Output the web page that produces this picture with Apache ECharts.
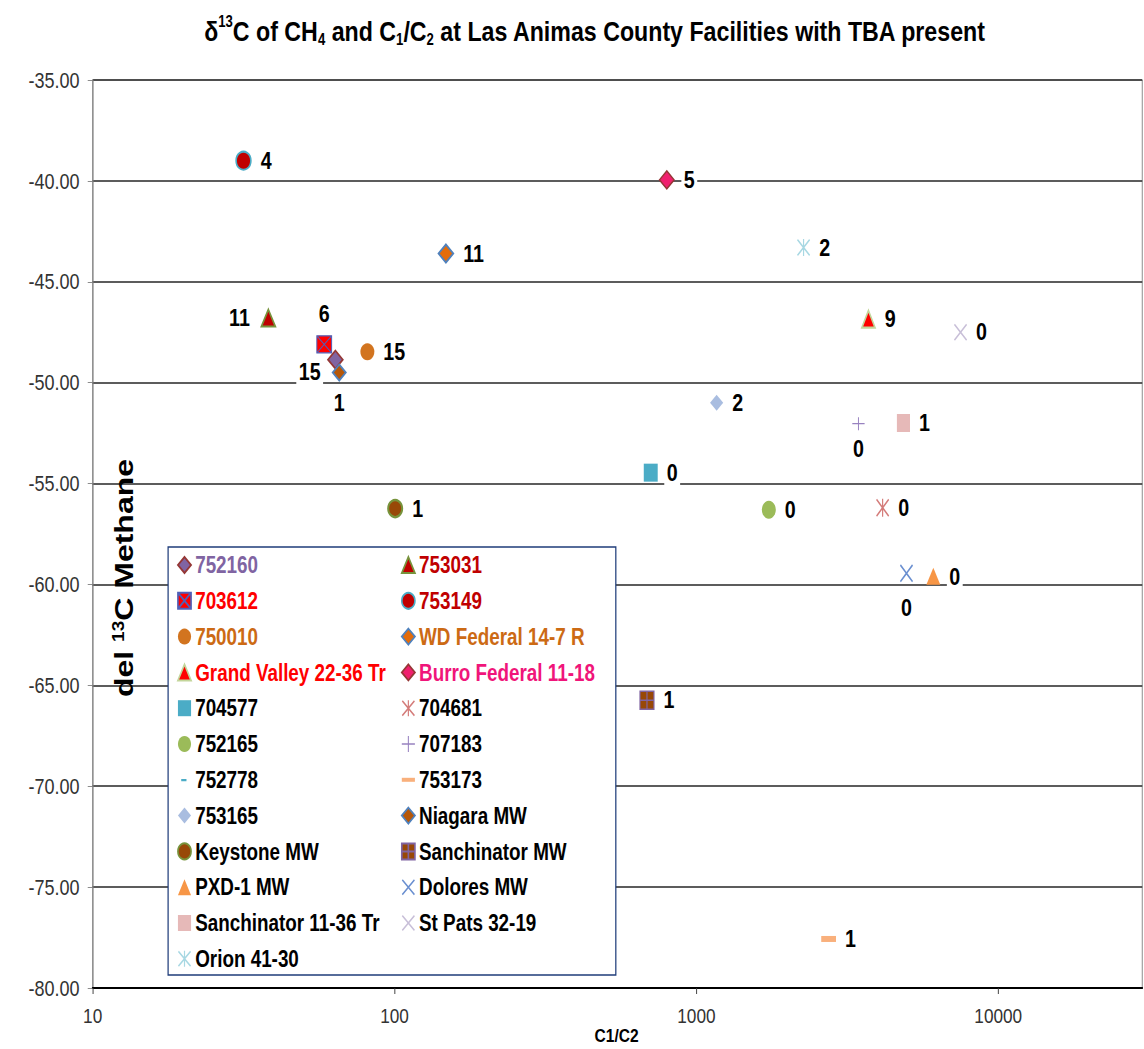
<!DOCTYPE html>
<html>
<head>
<meta charset="utf-8">
<script src="https://cdn.jsdelivr.net/npm/echarts@6/dist/echarts.min.js"></script>
<style>
  html, body { margin: 0; padding: 0; background: #fff; overflow: hidden; }
  #wrap { width: 1144px; height: 1049px; overflow: hidden; }
  /* the source picture is squeezed sideways, so draw wide and squeeze */
  #chart { width: 1395px; height: 1049px; transform: scaleX(0.82); transform-origin: 0 0; }
</style>
</head>
<body>
<div id="wrap"><div id="chart"></div></div>
<script>
// legend order, row by row (left column, right column)
const seriesNames = [
  '752160', '753031',
  '703612', '753149',
  '750010', 'WD Federal 14-7 R',
  'Grand Valley 22-36 Tr', 'Burro Federal 11-18',
  '704577', '704681',
  '752165', '707183',
  '752778', '753173',
  '753165', 'Niagara MW',
  'Keystone MW', 'Sanchinator MW',
  'PXD-1 MW', 'Dolores MW',
  'Sanchinator 11-36 Tr', 'St Pats 32-19',
  'Orion 41-30',
];
const c1c2 = [
  63.7, 38.2,
  58.5, 31.6,
  81.3, 148,
  3716, 798,
  706, 4140,
  1738, 3443,
  null, 2742,
  1167, 65.6,
  100.5, 686,
  6095, 4966,
  4853, 7500,
  2265,
];
const delta13C = [
  -48.86, -46.8,
  -48.1, -39.0,
  -48.47, -43.6,
  -46.85, -39.95,
  -54.46, -56.2,
  -56.3, -52.03,
  null, -77.57,
  -51.0, -49.5,
  -56.24, -65.74,
  -59.6, -59.45,
  -52.0, -47.5,
  -43.3,
];
const tbaCount = [
  15, 11,
  6, 4,
  15, 11,
  9, 5,
  0, 0,
  0, 0,
  null, 1,
  2, 1,
  1, 1,
  0, 0,
  1, 0,
  2,
];
const xTicks = [10, 100, 1000, 10000];

const FONT = "'Liberation Sans', Arial, sans-serif";

const X_PATH = 'M1.5,0 L10,8.5 L18.5,0 L20,1.5 L11.5,10 L20,18.5 L18.5,20 L10,11.5 L1.5,20 L0,18.5 L8.5,10 L0,1.5 Z';
const xMark = 'path://' + X_PATH;
const starMark = 'path://' + X_PATH + ' M9.1,0 H10.9 V20 H9.1 Z';
const plusMark = 'path://M9.2,0 H10.8 V9.2 H20 V10.8 H10.8 V20 H9.2 V10.8 H0 V9.2 H9.2 Z';
const boxX = 'path://M0,0 H20 V20 H0 Z M0,0 L20,20 M20,0 L0,20';
const boxPlus = 'path://M0,0 H20 V20 H0 Z M10,0 V20 M0,10 H20';

// marker look per series
const markers = {
  '752160': { symbol: 'diamond', size: [18, 18], color: '#8064a2', border: '#953735', bw: 2 },
  '753031': { symbol: 'triangle', size: [17, 17], color: '#c00000', border: '#77933c', bw: 2 },
  '703612': { symbol: boxX, size: [18, 17], color: '#ff0000', border: '#5060b8', bw: 1.2 },
  '753149': { symbol: 'circle', size: [18, 18], color: '#c00000', border: '#4bacc6', bw: 2 },
  '750010': { symbol: 'circle', size: [17, 17], color: '#d2741f' },
  'WD Federal 14-7 R': { symbol: 'diamond', size: [18, 18], color: '#e46c0a', border: '#4f81bd', bw: 2 },
  'Grand Valley 22-36 Tr': { symbol: 'triangle', size: [16, 17], color: '#ff0000', border: '#c3d69b', bw: 2 },
  'Burro Federal 11-18': { symbol: 'diamond', size: [18, 18], color: '#f0206e', border: '#953735', bw: 1.5 },
  '704577': { symbol: 'rect', size: [17, 18], color: '#4bacc6' },
  '704681': { symbol: starMark, size: [16, 18], color: '#d47c7a' },
  '752165': { symbol: 'circle', size: [17, 18], color: '#9bbb59' },
  '707183': { symbol: plusMark, size: [15, 13], color: '#9882c0' },
  '752778': { symbol: 'rect', size: [8, 3], color: '#4bacc6' },
  '753173': { symbol: 'rect', size: [18, 6], color: '#f9b07c' },
  '753165': { symbol: 'diamond', size: [16, 16], color: '#a9bde0' },
  'Niagara MW': { symbol: 'diamond', size: [16, 16], color: '#b65708', border: '#4f81bd', bw: 2 },
  'Keystone MW': { symbol: 'circle', size: [17, 17], color: '#984807', border: '#77933c', bw: 2.5 },
  'Sanchinator MW': { symbol: boxPlus, size: [17, 18], color: '#984807', border: '#8064a2', bw: 1.5 },
  'PXD-1 MW': { symbol: 'triangle', size: [17, 17], color: '#f79646' },
  'Dolores MW': { symbol: xMark, size: [16, 18], color: '#6a8fd0' },
  'Sanchinator 11-36 Tr': { symbol: 'rect', size: [16, 18], color: '#e6b9b8' },
  'St Pats 32-19': { symbol: xMark, size: [16, 17], color: '#c8bfd8' },
  'Orion 41-30': { symbol: starMark, size: [16, 17], color: '#a8d8e3' },
};

// where the count label sits
const labelSpots = {
  '753031': { position: 'left', distance: 10 },
  '703612': { position: 'top', distance: 8 },
  '752160': { position: 'left', distance: 5, offset: [0, 12] },
  'Niagara MW': { position: 'bottom', distance: 8 },
  '707183': { position: 'bottom', distance: 6 },
  'Dolores MW': { position: 'bottom', distance: 12 },
};

const legendColors = {
  '752160': '#8064a2',
  '753031': '#c00000',
  '703612': '#ff0000',
  '753149': '#c00000',
  '750010': '#cc6a14',
  'WD Federal 14-7 R': '#cc6a14',
  'Grand Valley 22-36 Tr': '#ff0000',
  'Burro Federal 11-18': '#f0157a',
};

const legendIcons = {
  '752778': 'path://M0,0 L0,0.01 M20,20 L20,19.99 M5,9 H13 V11.8 H5 Z',
  '753173': 'path://M0,0 H20 V5 H0 Z',
};

function legendItem(name) {
  const item = { name: name, textStyle: { color: legendColors[name] || '#000' } };
  if (legendIcons[name]) item.icon = legendIcons[name];
  return item;
}

const series = seriesNames.map((name, i) => {
  const m = markers[name];
  const spot = labelSpots[name] || { position: 'right', distance: 8 };
  return {
    name: name,
    type: 'scatter',
    symbol: m.symbol,
    symbolSize: m.size,
    itemStyle: {
      color: m.color,
      borderColor: m.border || m.color,
      borderWidth: m.bw || 0,
      opacity: 1,
    },
    label: {
      show: tbaCount[i] !== null,
      formatter: String(tbaCount[i]),
      position: spot.position,
      distance: spot.distance,
      offset: spot.offset || [0, 0],
      color: '#000',
      fontFamily: FONT,
      fontWeight: 'bold',
      fontSize: 24,
      backgroundColor: '#fff',
      padding: [1, 3],
    },
    emphasis: { disabled: true },
    data: c1c2[i] === null ? [] : [[c1c2[i], delta13C[i]]],
  };
});

const leftNames = seriesNames.filter((n, i) => i % 2 === 0);
const rightNames = seriesNames.filter((n, i) => i % 2 === 1);

const commonLegend = {
  orient: 'vertical',
  top: 553,
  padding: 0,
  itemGap: 11.8,
  itemWidth: 16,
  itemHeight: 16,
  selectedMode: false,
  textStyle: {
    fontFamily: FONT,
    fontWeight: 'bold',
    fontSize: 23,
    lineHeight: 24,
  },
};

const chart = echarts.init(document.getElementById('chart'), null, { renderer: 'svg' });

chart.setOption({
  backgroundColor: '#fff',
  animation: false,
  title: {
    text: 'δ{sup|13}C of CH{sub|4} and C{sub|1}/C{sub|2} at Las Animas County Facilities with TBA present',
    left: 244,
    top: 9,
    padding: 5,
    textStyle: {
      fontFamily: FONT,
      fontWeight: 'bold',
      fontSize: 28.3,
      lineHeight: 34,
      color: '#000',
      rich: {
        sup: { fontFamily: FONT, fontWeight: 'bold', fontSize: 16, verticalAlign: 'top', lineHeight: 16, color: '#000' },
        sub: { fontFamily: FONT, fontWeight: 'bold', fontSize: 16, verticalAlign: 'bottom', lineHeight: 16, color: '#000' },
      },
    },
  },
  grid: {
    left: 113,
    top: 80,
    right: 2,
    bottom: 61,
    show: true,
    borderColor: '#808080',
    borderWidth: 1,
    containLabel: false,
    outerBoundsMode: 'none',
  },
  legend: [
    Object.assign({}, commonLegend, { left: 216, data: leftNames.map(legendItem) }),
    Object.assign({}, commonLegend, { left: 489, data: rightNames.map(legendItem) }),
  ],
  xAxis: {
    type: 'log',
    logBase: 10,
    min: 10,
    max: 30000,
    axisLine: { show: true, lineStyle: { color: '#000', width: 2 } },
    axisTick: { show: true, length: 6, lineStyle: { color: '#333' } },
    axisLabel: {
      showMaxLabel: false,
      margin: 17,
      fontFamily: FONT,
      fontSize: 21,
      color: '#333',
      formatter: v => {
        const r = Math.round(v);
        return xTicks.indexOf(r) >= 0 ? String(r) : '';
      },
    },
    splitLine: { show: false },
  },
  yAxis: {
    type: 'value',
    min: -80,
    max: -35,
    interval: 5,
    axisLine: { show: true, lineStyle: { color: '#808080', width: 1 } },
    axisTick: { show: true, length: 6, lineStyle: { color: '#808080' } },
    axisLabel: {
      margin: 16,
      fontFamily: FONT,
      fontSize: 22,
      color: '#333',
      formatter: v => v.toFixed(2),
    },
    splitLine: { show: true, lineStyle: { color: '#262626', width: 1.5 } },
  },
  graphic: [
    {
      type: 'rect',
      z: 3,
      shape: { x: 205, y: 547, width: 546, height: 428 },
      style: { fill: '#fff', stroke: '#1f3d7a', lineWidth: 1.5 },
    },
    {
      type: 'text',
      z: 5,
      x: 151,
      y: 578,
      rotation: Math.PI / 2,
      style: {
        text: 'del {s|13}C Methane',
        fontFamily: FONT,
        fontWeight: 'bold',
        fontSize: 32,
        fill: '#000',
        align: 'center',
        verticalAlign: 'middle',
        rich: {
          s: { fontFamily: FONT, fontWeight: 'bold', fontSize: 19, verticalAlign: 'top', lineHeight: 19, fill: '#000' },
        },
      },
    },
    {
      // x axis title
      type: 'text',
      z: 5,
      x: 752,
      y: 1035,
      style: {
        text: 'C1/C2',
        fontFamily: FONT,
        fontWeight: 'bold',
        fontSize: 19,
        fill: '#000',
        align: 'center',
        verticalAlign: 'middle',
      },
    },
  ],
  series: series,
});
</script>
</body>
</html>
